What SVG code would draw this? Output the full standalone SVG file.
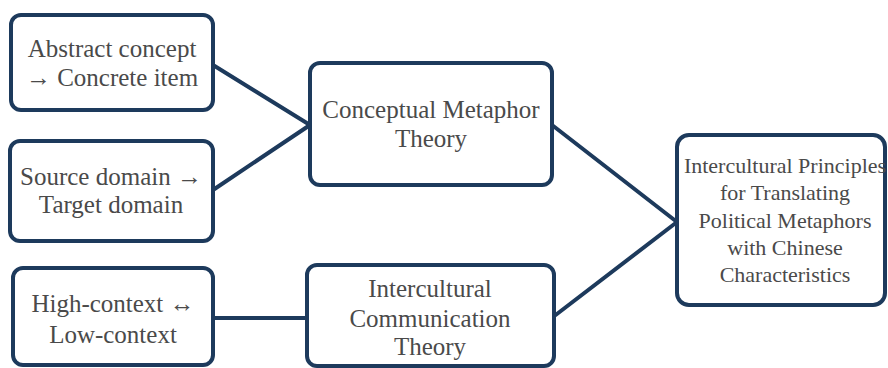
<svg xmlns="http://www.w3.org/2000/svg" width="888" height="368" viewBox="0 0 888 368">
<style>
.box{fill:#ffffff;stroke:#1d3a5c;stroke-width:4}
.conn{stroke:#1d3a5c;stroke-width:4;fill:none;stroke-linecap:round}
text{fill:#4a4a4a;text-anchor:middle}
.t{font-size:25px}
.s{font-size:22px}
</style>
<rect width="888" height="368" fill="#ffffff"/>
<g id="connectors">
<line class="conn" x1="213" y1="65" x2="310" y2="125"/>
<line class="conn" x1="213" y1="190" x2="310" y2="125"/>
<line class="conn" x1="213" y1="318" x2="307" y2="318"/>
<line class="conn" x1="552" y1="125" x2="677" y2="222"/>
<line class="conn" x1="553" y1="317" x2="677" y2="222"/>
</g>
<g font-family="'Liberation Serif', 'DejaVu Serif', 'Times New Roman', serif">
<g id="abstract">
<rect class="box" x="11" y="15" width="202" height="95" rx="10"/>
<text class="t" x="112" y="57">Abstract concept</text>
<text class="t" x="112" y="86">→ Concrete item</text>
</g>
<g id="source">
<rect class="box" x="10" y="141" width="203" height="100" rx="10"/>
<text class="t" x="111" y="185">Source domain →</text>
<text class="t" x="111" y="213">Target domain</text>
</g>
<g id="highcontext">
<rect class="box" x="13" y="268" width="200" height="97" rx="10"/>
<text class="t" x="113" y="312">High-context ↔</text>
<text class="t" x="113" y="343">Low-context</text>
</g>
<g id="cmt">
<rect class="box" x="310" y="63" width="242" height="122" rx="10"/>
<text class="t" x="431" y="118">Conceptual Metaphor</text>
<text class="t" x="431" y="147">Theory</text>
</g>
<g id="ict">
<rect class="box" x="307" y="265" width="247" height="101" rx="10"/>
<text class="t" x="430" y="297">Intercultural</text>
<text class="t" x="430" y="327">Communication</text>
<text class="t" x="430" y="355">Theory</text>
</g>
<g id="principles">
<rect class="box" x="677" y="135" width="208" height="170" rx="12"/>
<text class="s" x="785" y="173">Intercultural Principles</text>
<text class="s" x="785" y="200">for Translating</text>
<text class="s" x="785" y="228">Political Metaphors</text>
<text class="s" x="785" y="255">with Chinese</text>
<text class="s" x="785" y="282">Characteristics</text>
</g>
</g>
</svg>
